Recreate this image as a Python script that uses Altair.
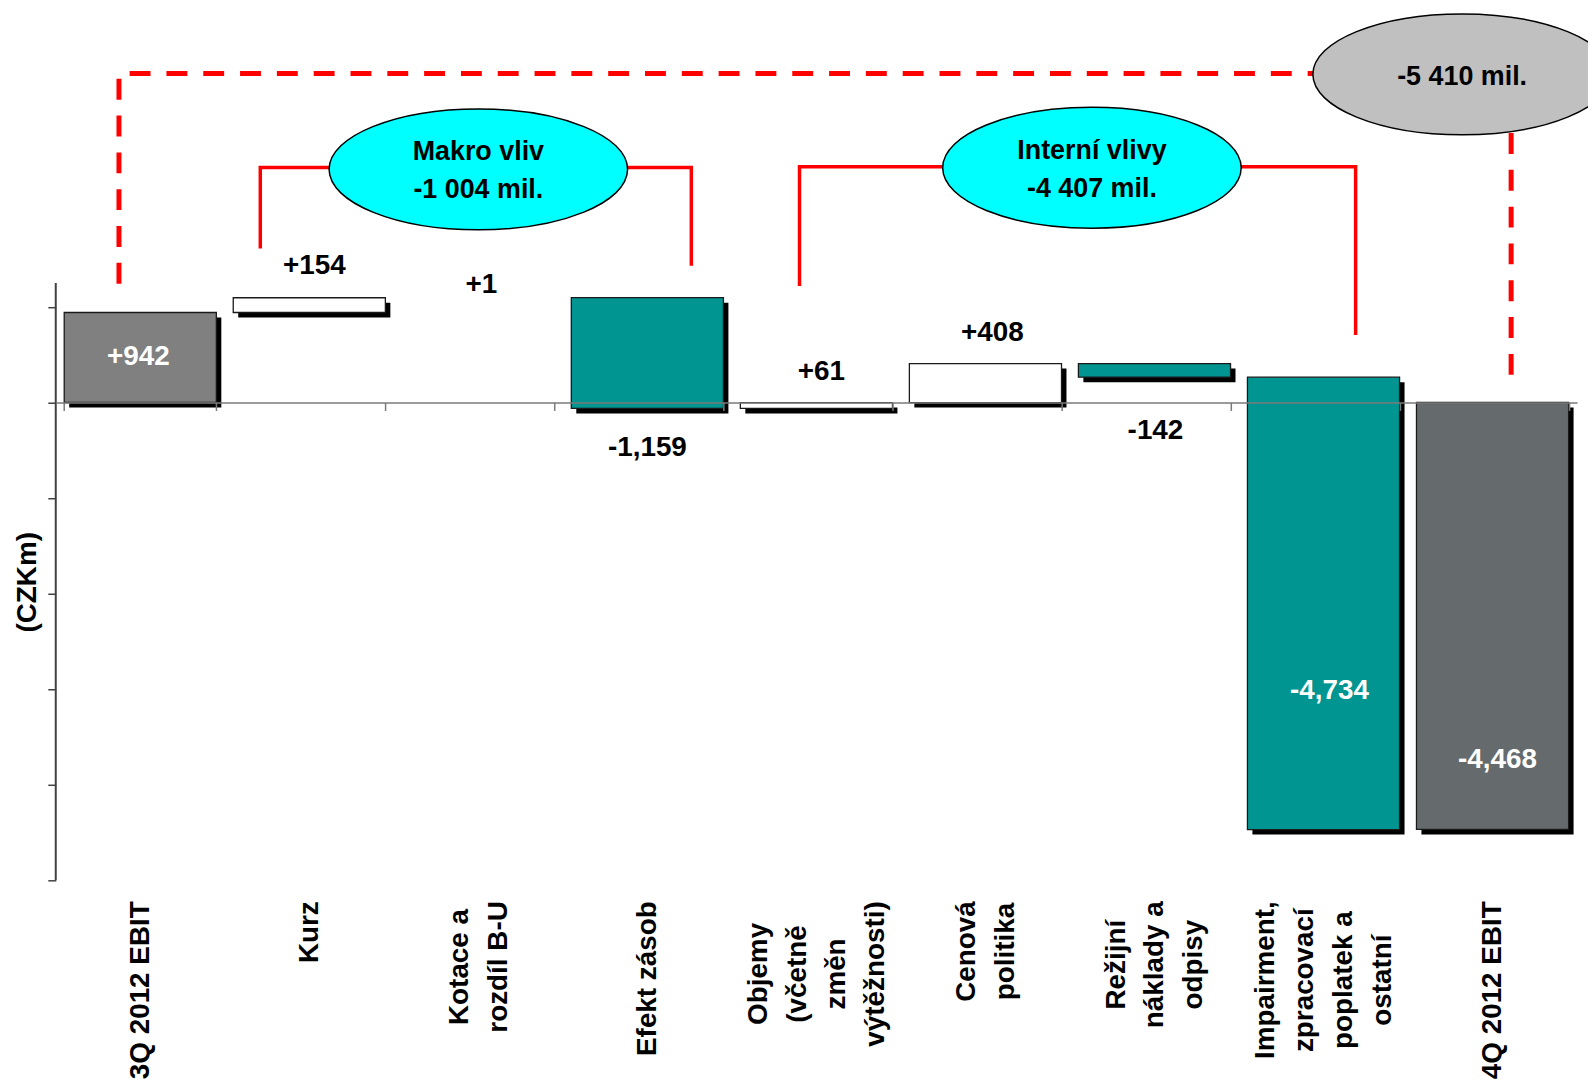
import altair as alt
import pandas as pd

# ------------------------------------------------------------------ data
categories = [
    "3Q 2012 EBIT",
    "Kurz",
    "Kotace a rozdíl B-U",
    "Efekt zásob",
    "Objemy (včetně změn výtěžnosti)",
    "Cenová politika",
    "Režijní náklady a odpisy",
    "Impairment, zpracovací poplatek a ostatní",
    "4Q 2012 EBIT",
]
category_lines = [
    ["3Q 2012 EBIT"],
    ["Kurz"],
    ["Kotace a", "rozdíl B-U"],
    ["Efekt zásob"],
    ["Objemy", "(včetně", "změn", "výtěžnosti)"],
    ["Cenová", "politika"],
    ["Režijní", "náklady a", "odpisy"],
    ["Impairment,", "zpracovací", "poplatek a", "ostatní"],
    ["4Q 2012 EBIT"],
]
values = [942, 154, 1, -1159, 61, 408, -142, -4734, -4468]
is_total = [True, False, False, False, False, False, False, False, True]
value_labels = ["+942", "+154", "+1", "-1,159", "+61", "+408", "-142", "-4,734", "-4,468"]

bubble_text = ["Makro vliv\n-1 004 mil.", "Interní vlivy\n-4 407 mil.", "-5 410 mil."]
bubble_x = [2.5, 6.13, 8.32]         # category units (0 .. 9)
bubble_y = [2440, 2457, 3434]        # CZKm
bubble_fill = ["#00ffff", "#00ffff", "#c0c0c0"]

bracket_ids = ["makro", "interni"]
bracket_x = [[1.21, 1.21, 3.76, 3.76], [4.40, 4.40, 7.69, 7.69]]
bracket_y = [[1611, 2460, 2460, 1431], [1218, 2466, 2466, 706]]
total_ids = ["left", "right"]
total_x = [[0.374, 0.374, 8.61], [8.61, 8.61]]
total_y = [[1243, 3443, 3443], [290, 3443]]

# ------------------------------------------------------------------ layout / style
W, H = 1529, 874
Y_MIN, Y_MAX = -5000, 4100
PX = H / (Y_MAX - Y_MIN)             # pixels per CZKm
STEP = W / len(categories)           # pixels per category
FONT = "Liberation Sans"
AX_FS, LINE_H, LABEL_GAP = 28, 39, 21
label_dy_px = [45, -32, -13, 40, -31, -31, 54, -139, -70]
label_dx_px = [-2, 5, 3, 0, 5, 7, 1, 6, 5]
bubble_dy_px = [-17, -17, 3]
COL_START, COL_END, COL_UP, COL_DOWN = "#808080", "#656b6d", "#ffffff", "#009590"

# Liberation Sans Bold advance widths (1/1000 em): used to centre the lines of
# each multi-line category label inside a block whose top edge is fixed
ADV = {" ": 278, "-": 333, "(": 333, ")": 333, ",": 278,
       "a": 556, "b": 611, "c": 556, "d": 611, "e": 556, "f": 333, "i": 278,
       "j": 278, "k": 556, "l": 278, "m": 889, "n": 611, "o": 611, "p": 611,
       "r": 389, "s": 556, "t": 333, "u": 611, "v": 556, "y": 556, "z": 500,
       "á": 556, "í": 278, "č": 556, "ě": 556, "ý": 556, "ž": 500,
       "B": 722, "C": 722, "E": 667, "I": 278, "K": 722, "O": 778, "Q": 778,
       "R": 722, "T": 611, "U": 722}


def adv(s):
    return sum(ADV.get(ch, 556) for ch in s)


# ------------------------------------------------------------------ tables
rows = []
run = 0
for i, (c, v, tot) in enumerate(zip(categories, values, is_total)):
    if tot:
        start, end = 0, v
    else:
        start, end = run, run + v
    run = end
    lo, hi = min(start, end), max(start, end)
    if tot:
        fill = COL_START if i == 0 else COL_END
    else:
        fill = COL_UP if v > 0 else COL_DOWN
    anchor = hi if v > 0 else lo
    dy = label_dy_px[i]
    inside = (v > 0 and dy > 0) or (v < 0 and dy < 0)
    visible = abs(hi - lo) >= 5
    rows.append(dict(cat=c, lo=lo, hi=hi, fill=fill, label=value_labels[i],
                     lx=i + 0.5 + label_dx_px[i] / STEP,
                     ly=anchor - dy / PX,
                     label_color="white" if inside else "black",
                     sw=1.3 if visible else 0, sh=1 if visible else 0))
bars_df = pd.DataFrame(rows)

ax_rows = []
for i, lines in enumerate(category_lines):
    n = len(lines)
    block = max(adv(s) for s in lines) * AX_FS / 1000
    for j, s in enumerate(lines):
        ax_rows.append(dict(t=s,
                            x=i + 0.5 + ((j - (n - 1) / 2) * LINE_H + 1) / STEP,
                            y=Y_MIN - (LABEL_GAP + block / 2) / PX))
axlab_df = pd.DataFrame(ax_rows)

bubble_df = pd.DataFrame({
    "x": bubble_x, "y": bubble_y, "fill": bubble_fill, "text": bubble_text,
    "ty": [y - d / PX for y, d in zip(bubble_y, bubble_dy_px)],
})


def paths(ids, xs, ys):
    out = []
    for pid, px_, py_ in zip(ids, xs, ys):
        for k, (xx, yy) in enumerate(zip(px_, py_)):
            out.append(dict(id=pid, o=k, x=xx, y=yy))
    return pd.DataFrame(out)


bracket_df = paths(bracket_ids, bracket_x, bracket_y)
total_df = paths(total_ids, total_x, total_y)
yline_df = pd.DataFrame({"top": [1250], "bottom": [Y_MIN]})

# ------------------------------------------------------------------ scales / axes
xband = alt.Scale(domain=categories, paddingInner=0.1, paddingOuter=0.05)
yscale = alt.Scale(domain=[Y_MIN, Y_MAX], nice=False, zero=False)
xlin = alt.Scale(domain=[0, len(categories)], nice=False, zero=False)

zero_axis = alt.Axis(
    orient="bottom", offset=-(H * (0 - Y_MIN) / (Y_MAX - Y_MIN)), title=None,
    labels=False, grid=False, domain=True, domainColor="#7a7a7a", domainWidth=1.5,
    ticks=True, tickBand="extent", tickSize=8, tickColor="#7a7a7a", tickWidth=1.5,
    zindex=1,
)
y_axis = alt.Axis(
    orient="left",
    values=list(range(-5000, 1001, 1000)), labels=False, domain=False, grid=False,
    ticks=True, tickSize=8, tickColor="#404040", tickWidth=1.5,
    title="(CZKm)", titleFont=FONT, titleFontSize=28, titleFontWeight="bold",
    titleColor="black", titleAngle=270, titleAlign="center", titleBaseline="middle",
    titleX=-28, titleY=574,
)

# ------------------------------------------------------------------ bar layers
base = alt.Chart(bars_df)

shadow = base.mark_bar(color="black", xOffset=5, yOffset=5, y2Offset=5).encode(
    x=alt.X("cat:N", scale=xband, axis=zero_axis),
    y=alt.Y("lo:Q", scale=yscale, axis=y_axis),
    y2="hi:Q",
    opacity=alt.Opacity("sh:Q", scale=None),
)

bars = base.mark_bar(stroke="#1a1a1a").encode(
    x=alt.X("cat:N", scale=xband, axis=None),
    y=alt.Y("lo:Q", scale=yscale, axis=None),
    y2="hi:Q",
    color=alt.Color("fill:N", scale=None),
    strokeWidth=alt.StrokeWidth("sw:Q", scale=None),
)

yline = alt.Chart(yline_df).mark_rule(color="#404040", strokeWidth=2).encode(
    x=alt.value(0),
    y=alt.Y("top:Q", scale=yscale, axis=None),
    y2="bottom:Q",
)

bar_group = alt.layer(shadow, bars, yline).resolve_axis(x="independent", y="independent")

# ------------------------------------------------------------------ text + annotations
ELLIPSE = ("M-1,0C-1,-0.2237,-0.5523,-0.405,0,-0.405C0.5523,-0.405,1,-0.2237,1,0"
           "C1,0.2237,0.5523,0.405,0,0.405C-0.5523,0.405,-1,0.2237,-1,0Z")

value_text = base.mark_text(font=FONT, fontSize=28, fontWeight="bold",
                            align="center", baseline="middle").encode(
    x=alt.X("lx:Q", scale=xlin, axis=None),
    y=alt.Y("ly:Q", scale=yscale, axis=None),
    text="label:N",
    color=alt.Color("label_color:N", scale=None),
)

cat_labels = alt.Chart(axlab_df).mark_text(font=FONT, fontSize=AX_FS, fontWeight="bold",
                                           angle=270, align="center", baseline="middle",
                                           color="black").encode(
    x=alt.X("x:Q", scale=xlin, axis=None),
    y=alt.Y("y:Q", scale=yscale, axis=None),
    text="t:N",
)

brackets = alt.Chart(bracket_df).mark_line(color="#ff0000", strokeWidth=3.5).encode(
    x=alt.X("x:Q", scale=xlin, axis=None),
    y=alt.Y("y:Q", scale=yscale, axis=None),
    detail="id:N",
    order="o:Q",
)
total_line = alt.Chart(total_df).mark_line(color="#ff0000", strokeWidth=5,
                                           strokeDash=[21, 16]).encode(
    x=alt.X("x:Q", scale=xlin, axis=None),
    y=alt.Y("y:Q", scale=yscale, axis=None),
    detail="id:N",
    order="o:Q",
)
ellipses = alt.Chart(bubble_df).mark_point(shape=ELLIPSE, size=90000, filled=True,
                                           opacity=1, stroke="black", strokeWidth=1.5).encode(
    x=alt.X("x:Q", scale=xlin, axis=None),
    y=alt.Y("y:Q", scale=yscale, axis=None),
    color=alt.Color("fill:N", scale=None),
)
bubble_labels = alt.Chart(bubble_df).mark_text(font=FONT, fontSize=27, fontWeight="bold",
                                               lineBreak="\n", lineHeight=38, align="center",
                                               baseline="middle", color="black").encode(
    x=alt.X("x:Q", scale=xlin, axis=None),
    y=alt.Y("ty:Q", scale=yscale, axis=None),
    text="text:N",
)

annot_group = alt.layer(value_text, cat_labels, brackets, total_line, ellipses, bubble_labels)

chart = (
    alt.layer(bar_group, annot_group)
    .resolve_scale(x="independent")
    .resolve_axis(x="independent", y="independent")
    .properties(
        width=W, height=H,
        autosize=alt.AutoSizeParams(type="none"),
        padding={"left": 48, "top": 0, "right": 11, "bottom": 201},
        background="white",
    )
    .configure_view(strokeWidth=0)
)

chart.save("out.html", embed_options={"renderer": "svg", "actions": False})
